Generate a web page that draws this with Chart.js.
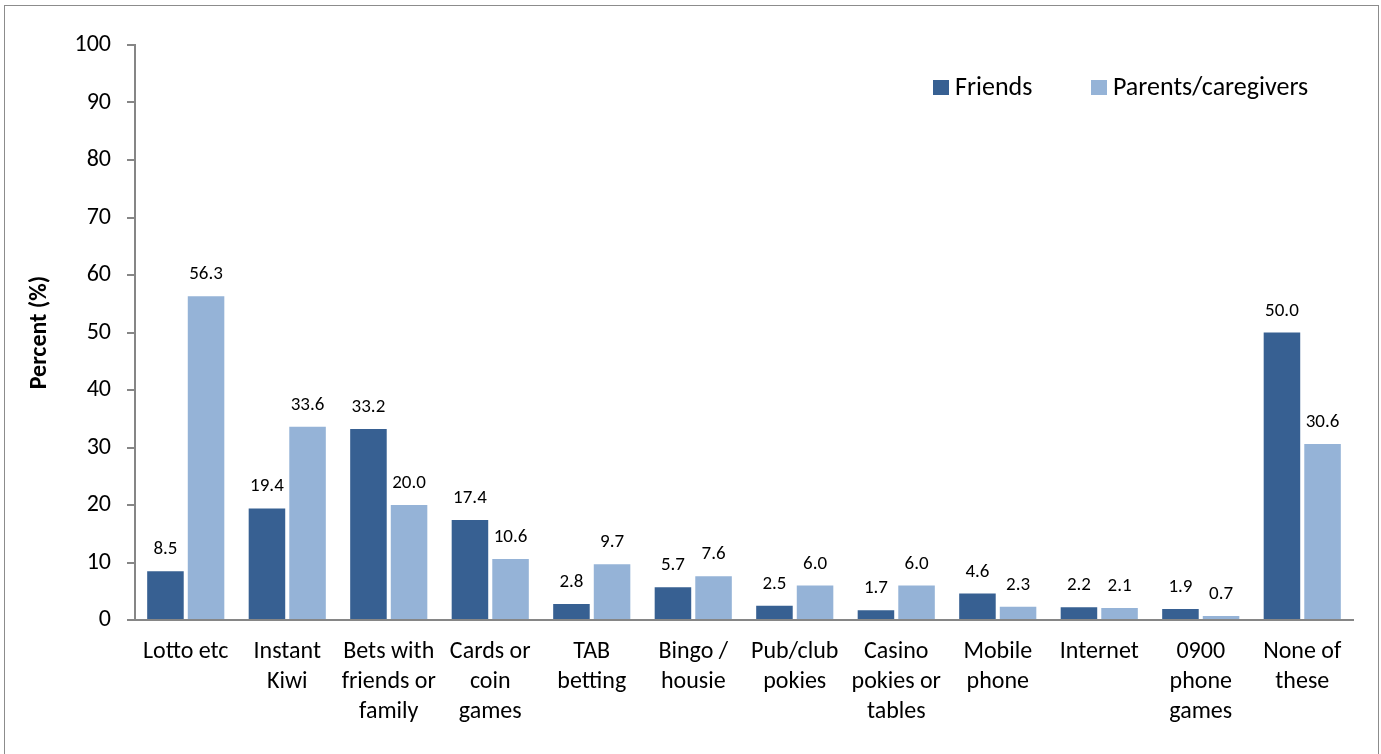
<!DOCTYPE html>
<html>
<head>
<meta charset="utf-8">
<script src="https://cdn.jsdelivr.net/npm/chart.js@4"></script>
<style>
  html, body { margin: 0; padding: 0; background: #fff; }
  #wrap { width: 1381px; height: 754px; position: relative; }
</style>
</head>
<body>
<div id="wrap"><canvas id="chart" width="1381" height="754"></canvas></div>
<script>
/* data */
const categories = [
  "Lotto etc",
  ["Instant", "Kiwi"],
  ["Bets with", "friends or", "family"],
  ["Cards or", "coin", "games"],
  ["TAB", "betting"],
  ["Bingo /", "housie"],
  ["Pub/club", "pokies"],
  ["Casino", "pokies or", "tables"],
  ["Mobile", "phone"],
  "Internet",
  ["0900", "phone", "games"],
  ["None of", "these"]
];
const friends = [8.5, 19.4, 33.2, 17.4, 2.8, 5.7, 2.5, 1.7, 4.6, 2.2, 1.9, 50.0];
const parents = [56.3, 33.6, 20.0, 10.6, 9.7, 7.6, 6.0, 6.0, 2.3, 2.1, 0.7, 30.6];
const yTicks = [0, 10, 20, 30, 40, 50, 60, 70, 80, 90, 100];

const FONT = "Carlito, Calibri, Lato, sans-serif";
const DARK = "#376092";
const LIGHT = "#95B3D7";
const AXIS = "#868686";

const $ = (id) => document.getElementById(id);

/* value labels above each bar */
const valueLabels = {
  id: "valueLabels",
  afterDatasetsDraw(chart) {
    const ctx = chart.ctx;
    ctx.save();
    ctx.font = "19px " + FONT;
    ctx.fillStyle = "#000";
    ctx.textAlign = "center";
    ctx.textBaseline = "alphabetic";
    chart.data.datasets.forEach((ds, i) => {
      chart.getDatasetMeta(i).data.forEach((bar, j) => {
        ctx.fillText(ds.data[j].toFixed(1), bar.x, bar.y - 17);
      });
    });
    ctx.restore();
  }
};

/* legend in the upper right + outer frame */
const decor = {
  id: "decor",
  afterDraw(chart) {
    const ctx = chart.ctx;
    ctx.save();
    ctx.strokeStyle = "#8c8c8c";
    ctx.lineWidth = 1;
    ctx.strokeRect(4.5, 5.5, 1374, 770);

    ctx.font = "26px " + FONT;
    ctx.textBaseline = "middle";
    const items = [
      { label: "Friends", color: DARK, x: 933 },
      { label: "Parents/caregivers", color: LIGHT, x: 1091 }
    ];
    items.forEach((it) => {
      ctx.fillStyle = it.color;
      ctx.fillRect(it.x, 80, 16, 15);
      ctx.fillStyle = "#000";
      ctx.textAlign = "left";
      ctx.fillText(it.label, it.x + 22, 88);
    });
    ctx.restore();
  }
};

new Chart($("chart"), {
  type: "bar",
  data: {
    labels: categories,
    datasets: [
      { label: "Friends", data: friends, backgroundColor: DARK },
      { label: "Parents/caregivers", data: parents, backgroundColor: LIGHT }
    ]
  },
  options: {
    responsive: false,
    animation: false,
    layout: { padding: { top: 45, right: 28, left: 0, bottom: 0 } },
    plugins: {
      legend: { display: false },
      tooltip: { enabled: false }
    },
    scales: {
      x: {
        grid: { display: false, drawTicks: false },
        border: { color: AXIS, width: 2 },
        ticks: {
          color: "#000",
          font: { family: FONT, size: 24, lineHeight: 1.25 },
          padding: 17,
          maxRotation: 0,
          autoSkip: false
        },
        categoryPercentage: 0.73,
        barPercentage: 1,
        afterFit: (s) => { s.height = 134; }
      },
      y: {
        min: 0,
        max: 100,
        afterBuildTicks: (s) => { s.ticks = yTicks.map((v) => ({ value: v })); },
        grid: { drawOnChartArea: false, drawTicks: true, tickLength: 8, color: AXIS, lineWidth: 2 },
        border: { color: AXIS, width: 2 },
        ticks: {
          color: "#000",
          font: { family: FONT, size: 24 },
          padding: 16
        },
        title: {
          display: true,
          text: "Percent (%)",
          color: "#000",
          font: { family: FONT, size: 24, weight: "bold" },
          padding: { top: 26, bottom: 0 }
        },
        afterFit: (s) => { s.width = 135; }
      }
    }
  },
  plugins: [valueLabels, decor]
});
</script>
</body>
</html>
